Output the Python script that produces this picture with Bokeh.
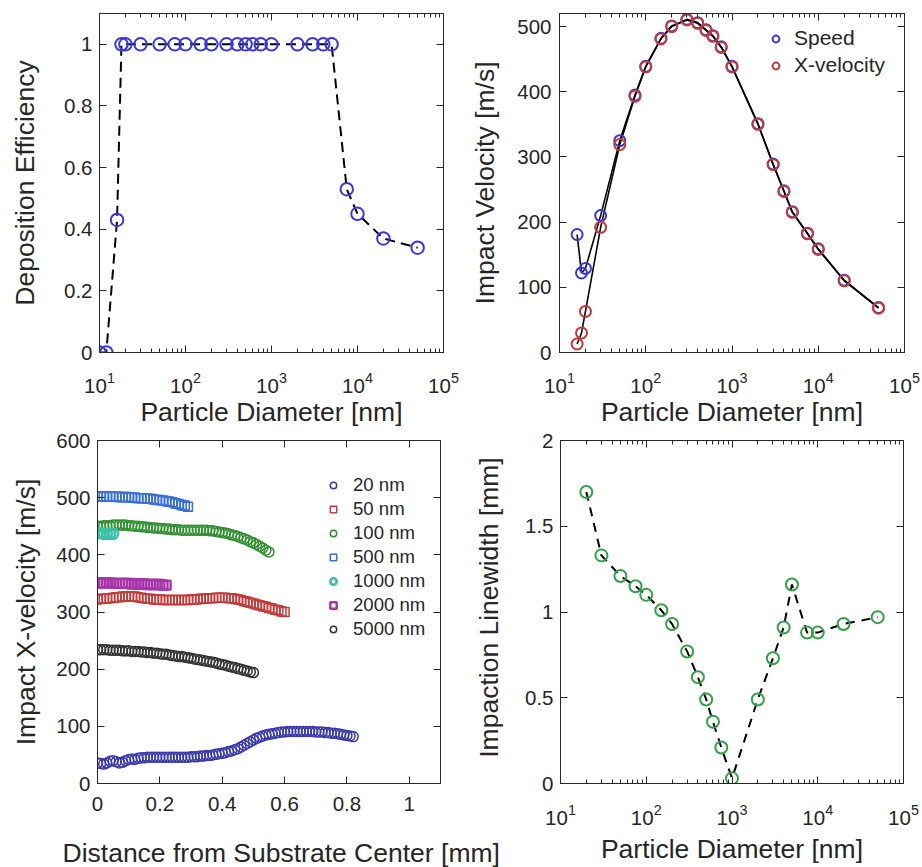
import math
from bokeh.plotting import figure
from bokeh.layouts import column, row
from bokeh.models import (Range1d, LinearAxis, LogAxis, FixedTicker, LogTickFormatter,
                          CustomJSTickFormatter, Legend, LegendItem, Title)
from bokeh.embed import file_html
from bokeh.resources import INLINE

# ---------------- data ----------------
# Panel (a): deposition efficiency
DE_DIAM = [10, 12, 16, 18, 20, 30, 50, 75, 100, 150, 200, 300, 400, 500, 600, 750,
           1000, 2000, 3000, 4000, 5000, 7500, 10000, 20000, 50000]
DE_VALUE = [0, 0, 0.43, 1, 1, 1, 1, 1, 1, 1, 1, 1, 1, 1, 1, 1,
            1, 1, 1, 1, 1, 0.53, 0.45, 0.37, 0.34]

# Panel (b): impact velocity
V_DIAM = [16, 18, 20, 30, 50, 75, 100, 150, 200, 300, 400, 500, 600, 750,
          1000, 2000, 3000, 4000, 5000, 7500, 10000, 20000, 50000]
SPEED = [181, 122, 129, 210, 325, 395, 439, 482, 501, 511, 506, 495, 486, 469,
         439, 351, 289, 248, 216, 183, 159, 111, 69]
X_VELOCITY = [13, 30, 63, 192, 319, 393, 438, 481, 500, 510, 505, 494, 485, 468,
              438, 350, 288, 247, 215, 182, 158, 110, 68]

# Panel (c): impact x-velocity vs distance from substrate center [mm]
DIST = [0.00, 0.01, 0.02, 0.03, 0.04, 0.05, 0.06, 0.07, 0.08, 0.09,
        0.10, 0.11, 0.12, 0.13, 0.14, 0.15, 0.16, 0.17, 0.18, 0.19,
        0.20, 0.21, 0.22, 0.23, 0.24, 0.25, 0.26, 0.27, 0.28, 0.29,
        0.30, 0.31, 0.32, 0.33, 0.34, 0.35, 0.36, 0.37, 0.38, 0.39,
        0.40, 0.41, 0.42, 0.43, 0.44, 0.45, 0.46, 0.47, 0.48, 0.49,
        0.50, 0.51, 0.52, 0.53, 0.54, 0.55, 0.56, 0.57, 0.58, 0.59,
        0.60, 0.61, 0.62, 0.63, 0.64, 0.65, 0.66, 0.67, 0.68, 0.69,
        0.70, 0.71, 0.72, 0.73, 0.74, 0.75, 0.76, 0.77, 0.78, 0.79,
        0.80, 0.81, 0.82]
VX_20 = [36, 35, 34, 36, 39, 40, 38, 36, 37, 40,
         42, 43, 42, 44, 45, 45, 46, 46, 46, 46,
         46, 46, 46, 46, 46, 46, 46, 46, 46, 46,
         47, 47, 47, 48, 48, 49, 49, 50, 51, 52,
         53, 54, 56, 57, 59, 61, 64, 67, 70, 73,
         76, 79, 81, 83, 85, 86, 87, 88, 89, 90,
         90, 91, 91, 91, 91, 91, 91, 91, 91, 91,
         90, 90, 90, 89, 89, 88, 88, 87, 86, 85,
         84, 83, 82]
VX_50 = [322, 323, 323, 323, 324, 325, 326, 326, 327, 327,
         327, 327, 327, 326, 325, 324, 323, 323, 322, 322,
         322, 321, 321, 321, 321, 321, 321, 321, 321, 321,
         322, 322, 322, 323, 323, 324, 324, 324, 325, 325,
         325, 325, 324, 324, 323, 322, 321, 319, 318, 316,
         315, 313, 312, 310, 309, 307, 306, 304, 303, 301,
         300]
VX_100 = [450, 450, 451, 451, 451, 452, 452, 452, 452, 452,
          451, 451, 450, 450, 449, 449, 448, 448, 447, 447,
          446, 446, 445, 445, 444, 444, 444, 443, 443, 443,
          443, 443, 443, 443, 443, 443, 442, 442, 441, 440,
          439, 438, 437, 435, 434, 432, 430, 428, 426, 423,
          421, 418, 415, 412, 408, 405]
VX_500 = [502, 502, 502, 502, 502, 502, 502, 501, 501, 501,
          501, 500, 500, 499, 499, 499, 498, 498, 497, 496,
          496, 495, 494, 493, 492, 490, 489, 487, 486, 484]
VX_1000 = [438, 438, 437, 437, 437, 437]
VX_2000 = [351, 351, 351, 351, 351, 350, 350, 350, 350, 350,
           350, 349, 349, 349, 349, 349, 348, 348, 348, 348,
           348, 347, 347]
VX_5000 = [234, 234, 234, 234, 233, 233, 233, 233, 232, 232,
           232, 231, 231, 231, 230, 230, 229, 229, 228, 228,
           227, 226, 226, 225, 224, 223, 222, 222, 221, 220,
           219, 218, 217, 216, 215, 214, 213, 212, 211, 209,
           208, 207, 205, 204, 203, 201, 200, 198, 197, 195,
           194]
SERIES_NAMES = ["20 nm", "50 nm", "100 nm", "500 nm", "1000 nm", "2000 nm", "5000 nm"]

# Panel (d): impaction linewidth
LW_DIAM = [20, 30, 50, 75, 100, 150, 200, 300, 400, 500, 600, 750,
           1000, 2000, 3000, 4000, 5000, 7500, 10000, 20000, 50000]
LINEWIDTH = [1.70, 1.33, 1.21, 1.15, 1.10, 1.01, 0.93, 0.77, 0.62, 0.49, 0.36, 0.21,
             0.03, 0.49, 0.73, 0.91, 1.16, 0.88, 0.88, 0.93, 0.97]

# ---------------- styling ----------------
FONT = "Liberation Sans"
AX = "#262626"
TICK_FS = "20.5px"
LABEL_FS = "26.5px"

LOG_MAJOR = [1e1, 1e2, 1e3, 1e4, 1e5]
LOG_MINOR = [m * 10 ** k for k in range(1, 5) for m in range(2, 10)]


def style_axis(ax, ticks, minor=None, log=False, show_labels=True):
    ax.ticker = FixedTicker(ticks=ticks, minor_ticks=minor or [])
    ax.axis_line_color = AX
    ax.axis_line_width = 1
    ax.major_tick_line_color = AX
    ax.major_tick_line_width = 1
    ax.major_tick_in = 7
    ax.major_tick_out = 0
    ax.minor_tick_line_color = AX if minor else None
    ax.minor_tick_in = 4
    ax.minor_tick_out = 0
    ax.major_label_text_font = FONT
    ax.major_label_text_color = AX
    ax.axis_label_text_font = FONT
    ax.axis_label_text_font_size = LABEL_FS
    ax.axis_label_text_font_style = "normal"
    ax.axis_label_text_color = AX
    if show_labels:
        ax.major_label_text_font_size = TICK_FS
        if log:
            ax.formatter = LogTickFormatter()
        else:
            ax.formatter = CustomJSTickFormatter(code="return String(Number(tick.toFixed(3)));")
    else:
        ax.major_label_text_font_size = "0px"
        ax.major_label_standoff = 0
        ax.formatter = CustomJSTickFormatter(code="return '';")


def make_fig(w, h, left, right, top, bottom, xlog, xr, yr, xticks, yticks,
             xlabel=None, ylabel=None, x_standoff=(10, 5), y_standoff=(8, 15)):
    p = figure(width=w, height=h, output_backend="svg", toolbar_location=None,
               x_axis_type="log" if xlog else "linear",
               x_range=Range1d(*xr), y_range=Range1d(*yr),
               min_border_left=left, min_border_right=right,
               min_border_top=top, min_border_bottom=bottom)
    p.xgrid.visible = False
    p.ygrid.visible = False
    p.outline_line_color = AX
    p.outline_line_width = 1
    p.background_fill_color = "white"
    p.border_fill_color = "white"
    minor = LOG_MINOR if xlog else None
    xa = p.xaxis[0]
    ya = p.yaxis[0]
    style_axis(xa, xticks, minor, log=xlog)
    style_axis(ya, yticks)
    xa.major_label_standoff = x_standoff[0]
    xa.axis_label_standoff = x_standoff[1]
    ya.major_label_standoff = y_standoff[0]
    ya.axis_label_standoff = y_standoff[1]
    if xlabel:
        xa.axis_label = xlabel
    if ylabel:
        ya.axis_label = ylabel
    top_ax = LogAxis() if xlog else LinearAxis()
    style_axis(top_ax, xticks, minor, log=xlog, show_labels=False)
    p.add_layout(top_ax, "above")
    right_ax = LinearAxis()
    style_axis(right_ax, yticks, show_labels=False)
    p.add_layout(right_ax, "right")
    return p


# ---- (a) ----
p1 = make_fig(461, 430, 99, 18, 13, 73, True, (10, 1e5), (0, 1.1),
              LOG_MAJOR, [0, 0.2, 0.4, 0.6, 0.8, 1],
              xlabel="Particle Diameter [nm]", ylabel="Deposition Efficiency",
              x_standoff=(19, 1), y_standoff=(7, 21))
p1.line(DE_DIAM, DE_VALUE, line_color="black", line_width=2, line_dash="10 6")
p1.scatter(DE_DIAM, DE_VALUE, marker="circle", size=12.5, line_color="#3a3ad2",
           line_width=2, fill_color=None)

# ---- (b) ----
p2 = make_fig(461, 430, 98, 18, 7, 78, True, (10, 1e5), (0, 520),
              LOG_MAJOR, [0, 100, 200, 300, 400, 500],
              xlabel="Particle Diameter [nm]", ylabel="Impact Velocity [m/s]",
              x_standoff=(19, 1), y_standoff=(8, 14))
p2.line(V_DIAM, SPEED, line_color="black", line_width=1.6)
p2.line(V_DIAM, X_VELOCITY, line_color="black", line_width=1.6)
r_s = p2.scatter(V_DIAM, SPEED, marker="circle", size=11, line_color="#3a3ad0",
                 line_width=2, fill_color=None)
r_x = p2.scatter(V_DIAM, X_VELOCITY, marker="circle", size=11, line_color="#c23a3a",
                 line_width=2, fill_color=None)
leg2 = Legend(items=[LegendItem(label="Speed", renderers=[r_s]),
                     LegendItem(label="X-velocity", renderers=[r_x])],
              location=(208, 275), padding=0, margin=0, spacing=3,
              glyph_width=17, glyph_height=17, label_height=24, label_standoff=10,
              label_text_font=FONT, label_text_font_size="21px", label_text_color=AX,
              border_line_color=None, background_fill_alpha=0)
p2.add_layout(leg2)

# ---- (c) ----
p3 = make_fig(522, 437, 97, 80, 10, 83, False, (0, 1.1), (0, 600),
              [0, 0.2, 0.4, 0.6, 0.8, 1], [0, 100, 200, 300, 400, 500, 600],
              xlabel=None, ylabel="Impact X-velocity [m/s]",
              x_standoff=(13, 5), y_standoff=(7, 12))
series = [VX_20, VX_50, VX_100, VX_500, VX_1000, VX_2000, VX_5000]
markers = ["circle", "square", "circle", "square", "circle", "square", "circle"]
colors = ["#3a3aa8", "#c43a3a", "#2f8f2f", "#3a6fd6", "#3cbfa5", "#a535a8", "#333333"]
widths = [1.5, 1.5, 1.5, 1.6, 2.6, 2.4, 1.5]
items3 = []
for name, vals, mk, col, lw in zip(SERIES_NAMES, series, markers, colors, widths):
    r = p3.scatter(DIST[:len(vals)], vals, marker=mk,
                   size=10 if mk == "circle" else 9,
                   line_color=col, line_width=lw, fill_color=None)
    items3.append(LegendItem(label=name, renderers=[r]))
leg3 = Legend(items=items3, location=(228, 143), padding=0, margin=0, spacing=2,
              glyph_width=16, glyph_height=16, label_height=21, label_standoff=12,
              label_text_font=FONT, label_text_font_size="18.6px", label_text_color=AX,
              border_line_color=None, background_fill_alpha=0)
p3.add_layout(leg3)

# spacer below the tick labels (white, invisible tick), then the x label of (c) as a
# title shifted left so it runs past the frame like the reference
spacer = LinearAxis(ticker=FixedTicker(ticks=[1.09]), axis_line_color=None,
                    major_tick_line_color="white", minor_tick_line_color=None,
                    major_tick_in=0, major_tick_out=22, minor_tick_out=0,
                    major_label_text_font_size="0px", major_label_standoff=0,
                    formatter=CustomJSTickFormatter(code="return '';"))
p3.add_layout(spacer, "below")
p3.add_layout(Title(text="Distance from Substrate Center [mm]", align="left", offset=-35,
                    standoff=0, text_font=FONT, text_font_size=LABEL_FS,
                    text_font_style="normal", text_color=AX), "below")

# y label of (d): a single rotated tick label on an extra right axis of (c),
# sitting in the gap between the two bottom panels
lab_ax = LinearAxis(ticker=FixedTicker(ticks=[45]),
                    major_label_overrides={45: "Impaction Linewidth [mm]"},
                    major_label_orientation=math.pi / 2,
                    axis_line_color=None, major_tick_line_color=None,
                    minor_tick_line_color=None, major_tick_in=0, major_tick_out=0,
                    major_label_standoff=49, major_label_text_font=FONT,
                    major_label_text_font_size=LABEL_FS, major_label_text_color=AX)
p3.add_layout(lab_ax, "right")

# ---- (d) ----
p4 = make_fig(400, 437, 36, 19, 9, 84, True, (10, 1e5), (0, 2),
              LOG_MAJOR, [0, 0.5, 1, 1.5, 2],
              xlabel="Particle Diameter [nm]", ylabel=None,
              x_standoff=(20, 6), y_standoff=(7, 16))
p4.line(LW_DIAM, LINEWIDTH, line_color="black", line_width=2, line_dash="9 7")
p4.scatter(LW_DIAM, LINEWIDTH, marker="circle", size=12, line_color="#33a046",
           line_width=2, fill_color=None)

layout = column(row(p1, p2, spacing=0), row(p3, p4, spacing=0), spacing=0)

open("out.html", "w").write(file_html(layout, INLINE))
